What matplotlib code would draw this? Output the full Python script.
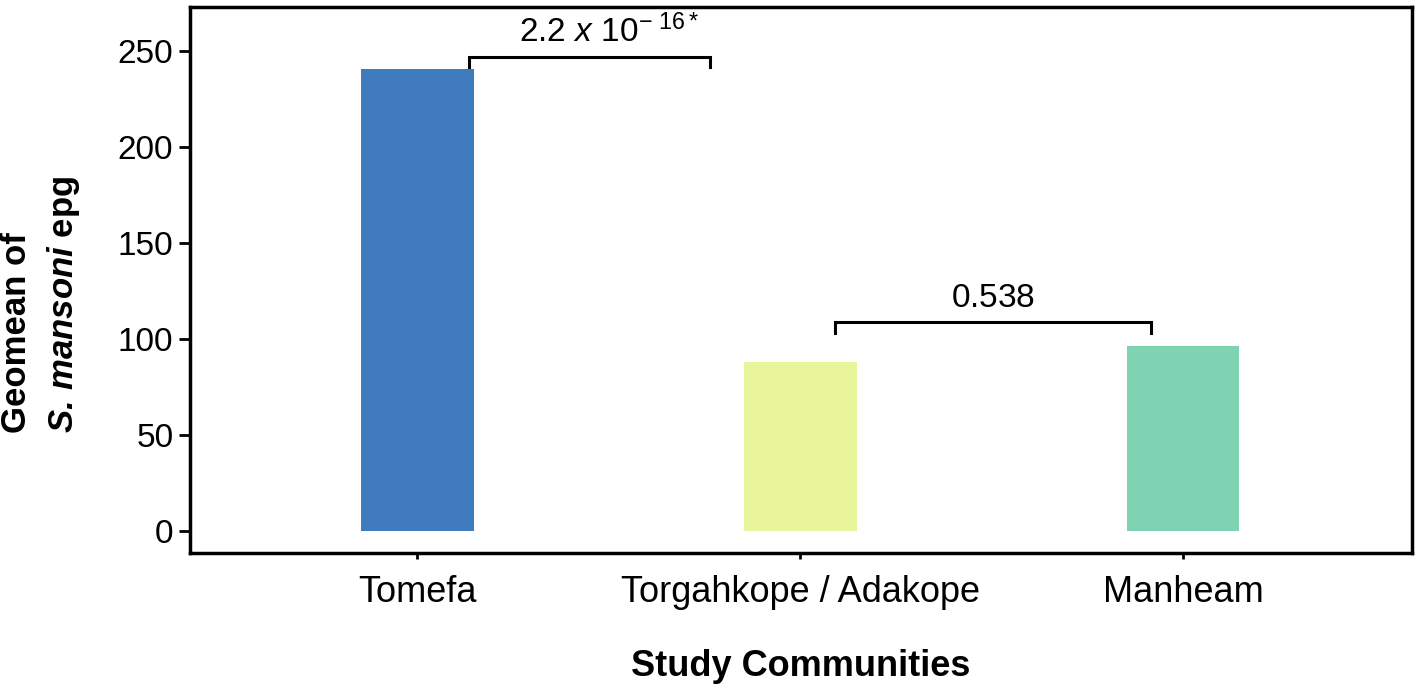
import matplotlib
matplotlib.use("Agg")
import matplotlib.pyplot as plt

plt.rcParams['font.family'] = ['Liberation Sans', 'DejaVu Sans']
plt.rcParams['mathtext.fontset'] = 'custom'
plt.rcParams['mathtext.rm'] = 'Liberation Sans'
plt.rcParams['mathtext.it'] = 'Liberation Sans:italic'
plt.rcParams['mathtext.bf'] = 'Liberation Sans:bold'
plt.rcParams['mathtext.bfit'] = 'Liberation Sans:bold:italic'

communities = ["Tomefa", "Torgahkope / Adakope", "Manheam"]
geomean_epg = [240.5, 88.0, 96.5]
bar_colors = ["#3F7BBE", "#E9F59B", "#80D3B2"]
yticks = [0, 50, 100, 150, 200, 250]

# comparisons: (left, right, label)
comparisons = [(0, 1, r"$\mathit{2.2\ x\ 10^{-\ 16*}}$"),
               (1, 2, r"$\mathit{0.538}$")]

fig = plt.figure(figsize=(14.18, 6.89), dpi=100)
ax = fig.add_axes([190/1418, 1-553/689, (1412-190)/1418, (553-7)/689])

x = list(range(len(communities)))
ax.bar(x, geomean_epg, width=0.295, color=bar_colors)

ax.set_xlim(-0.593, 2.598)
ax.set_ylim(-11.5, 273)
ax.set_yticks(yticks)
ax.set_xticks(x)
ax.set_xticklabels(communities, fontsize=26)
ax.tick_params(axis='y', labelsize=24, length=8, width=2, pad=4)
ax.tick_params(axis='x', length=4, width=2, pad=12)
for s in ax.spines.values():
    s.set_linewidth(2.5)

ax.set_xlabel("Study Communities", fontsize=26, fontweight='bold', labelpad=28)
ax.set_ylabel("Geomean of\n" + r"$\mathbfit{S.\,mansoni}$ epg", fontsize=25,
              fontweight='bold', linespacing=1.45, multialignment='left')
ax.yaxis.set_label_coords(-0.088, 0.456)

# significance brackets
b1 = dict(x0=0.136, x1=0.765, y=246.9, drop=5.2)
b2 = dict(x0=1.091, x1=1.916, y=108.9, drop=5.8)
for b, (i, j, lab) in zip([b1, b2], comparisons):
    ax.plot([b['x0'], b['x0'], b['x1'], b['x1']],
            [b['y'] - b['drop'], b['y'], b['y'], b['y'] - b['drop']],
            color='black', lw=2.2, solid_joinstyle='miter')
    ax.text((b['x0'] + b['x1']) / 2 + 0.05 * (i == 0), b['y'] + 4, lab,
            ha='center', va='bottom', fontsize=24)

fig.savefig("out.png", dpi=100)
